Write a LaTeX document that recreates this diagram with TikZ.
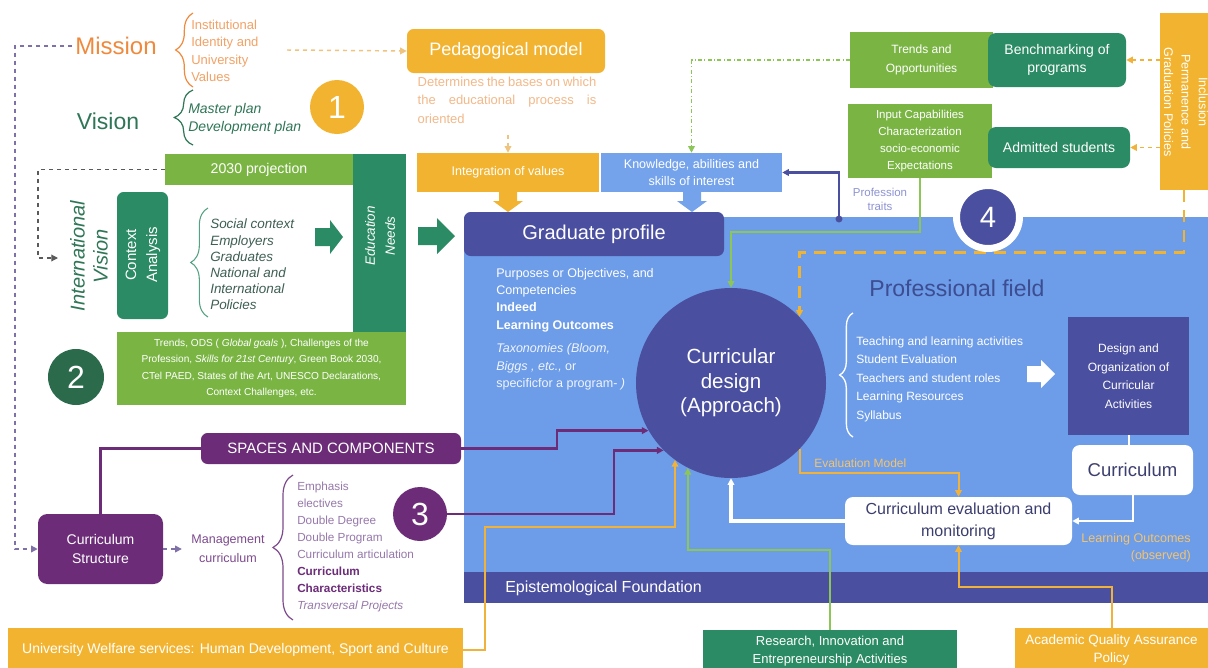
\documentclass[tikz,border=0pt]{standalone}
\usepackage{fontspec}
\setmainfont{Liberation Sans}
\usetikzlibrary{arrows.meta,decorations.pathreplacing,calc}
\definecolor{cyel}{HTML}{F2B430}
\definecolor{cyline}{HTML}{F0B23A}
\definecolor{cytext}{HTML}{F2B98A}
\definecolor{corange}{HTML}{EF8A3D}
\definecolor{corlight}{HTML}{F2A266}
\definecolor{cdash}{HTML}{EFC47E}
\definecolor{cdgreen}{HTML}{2B8B64}
\definecolor{clgreen}{HTML}{7AB544}
\definecolor{cline}{HTML}{8CC657}
\definecolor{cvgreen}{HTML}{2F7657}
\definecolor{c2green}{HTML}{2B6B4B}
\definecolor{ctxtg}{HTML}{3F5F54}
\definecolor{cpurple}{HTML}{6C2C78}
\definecolor{cpmid}{HTML}{7D4A8E}
\definecolor{cplight}{HTML}{9678AA}
\definecolor{cpdash}{HTML}{8070A8}
\definecolor{cindigo}{HTML}{4A4F9F}
\definecolor{cblue}{HTML}{6D9CE8}
\definecolor{clblue}{HTML}{74A3EC}
\definecolor{cnavy}{HTML}{3C4D92}
\definecolor{cprtr}{HTML}{8E93D3}
\definecolor{cdtext}{HTML}{3B3E6E}
\definecolor{cgreyd}{HTML}{5A5A5A}
\definecolor{clo}{HTML}{F4C46E}
\newcommand\fpx[2]{\fontsize{#1}{#2}\selectfont}
\tikzset{
  box/.style={inner sep=0pt, align=center, text=white},
  wh/.style 2 args={minimum width=#1*0.75pt, minimum height=#2*0.75pt},
  lbl/.style={inner sep=0pt},
  tip/.style={-{Triangle[length=5pt,width=5pt]}},
}
\begin{document}
\begin{tikzpicture}[x=0.75pt,y=-0.75pt]
\useasboundingbox (0,0) rectangle (1208,668);
\fill[white] (0,0) rectangle (1208,668);
% panels
\fill[cblue] (464,217) rectangle (1208,572);
\fill[cindigo] (464,572) rectangle (1208,603);
\node[lbl, anchor=west, text=white, font=\fpx{12}{14}] (epi) at (505,588) {Epistemological Foundation};

% mission / vision
\node[lbl, text=corange, font=\fpx{18}{20}, inner sep=2pt] (mission) at (116,46) {Mission};
\draw[corange, line width=0.9pt, decorate, decoration={brace, amplitude=13pt}] (193,87) -- (193,13);
\node[lbl, anchor=west, align=left, text=corlight, font=\fpx{9.75}{13}] (values) at (191,51) {Institutional\\Identity and\\University\\Values};
\node[lbl, text=cvgreen, font=\fpx{17.25}{20}, inner sep=2pt] (vision) at (108,121) {Vision};
\draw[cvgreen, line width=0.9pt, decorate, decoration={brace, amplitude=14pt}] (193,145) -- (193,90);
\node[lbl, anchor=west, align=left, text=cvgreen, font=\itshape\fpx{10.5}{13.5}] (plans) at (188,119) {Master plan\\Development plan};
\node[circle, fill=cyel, wh={54}{54}, inner sep=0pt, text=white, font=\fpx{24}{24}] (c1) at (337,107) {1};

% pedagogical model
\node[box, fill=cyel, rounded corners=5pt, wh={198}{44}, font=\fpx{13.5}{15}] (ped) at (506,51) {Pedagogical model};
\coordinate (mdash) at (287,50);
\draw[cdash, dashed, line width=1.1pt, tip] (mdash) -- (ped.west);
\node[lbl, text=cytext, font=\fpx{9.75}{13.9}, align=left] (peddesc) at (507,100) {\makebox[134pt][s]{Determines the bases on which}\\\makebox[134pt][s]{the educational process is}\\oriented};
\node[box, fill=cyel, wh={182}{39}, font=\fpx{9.4}{11}] (integ) at (508,172.5) {Integration of values};
\node[box, fill=clblue, wh={181}{39}, font=\fpx{9.4}{13}] (know) at (691.5,172.5) {Knowledge, abilities and\\skills of interest};
\coordinate (pdd) at (508,135);
\draw[cdash, dashed, line width=1pt, tip] (pdd) -- (integ.north);
\fill[cyel] (499,192)--(517,192)--(517,201)--(523,201)--(508,212)--(493,201)--(499,201)--cycle;
\fill[clblue] (683,192)--(701,192)--(701,201)--(707,201)--(692,212)--(677,201)--(683,201)--cycle;
\node[box, fill=cindigo, rounded corners=5pt, wh={260}{44}, font=\fpx{15}{17}] (grad) at (594,234) {Graduate profile};

% top right
\node[box, fill=clgreen, wh={143}{56}, font=\fpx{9}{13.9}] (trends) at (921.5,60) {Trends and\\Opportunities};
\node[box, fill=cdgreen, rounded corners=6pt, wh={138}{54}, font=\fpx{10.5}{14}] (bench) at (1057,60) {Benchmarking of\\programs};
\node[box, fill=clgreen, wh={144}{74}, font=\fpx{8.6}{12.8}] (input) at (920,141) {Input Capabilities\\Characterization\\socio-economic\\Expectations};
\node[box, fill=cdgreen, rounded corners=6pt, wh={142}{41}, font=\fpx{10.5}{12}] (admit) at (1059,147.5) {Admitted students};
\node[box, fill=cyel, wh={48}{177}] (incl) at (1184,101.5) {};
\node[lbl, rotate=-90, align=center, text=white, font=\fpx{9.4}{13}] (incltxt) at (1186,102) {Inclusion\\Permanence and\\Graduation Policies};
\draw[cyline, dashed, line width=1.1pt, tip] (incl.west |- bench.east) -- (bench.east);
\draw[cyline, dashed, line width=1.1pt, tip] (incl.west |- admit.east) -- (admit.east);
\draw[cline, dash dot, line width=1pt, tip] (trends.west) -| (know.north);
\coordinate (ptr) at (839,219);
\fill[cindigo] (ptr) circle[radius=2.6pt];
\draw[cindigo, line width=1.8pt, tip] (ptr) |- (know.east);
\node[lbl, align=center, text=cprtr, font=\fpx{8.6}{10.5}] (prtr) at (880,199) {Profession\\traits};

% left block
\node[box, fill=clgreen, wh={188}{31}, font=\fpx{10.6}{12}] (proj) at (259,169.5) {2030 projection};
\node[box, fill=cdgreen, wh={53}{178}] (eduN) at (379.5,243) {};
\node[lbl, rotate=90, align=center, text=white, font=\itshape\fpx{10.1}{15}] (edutxt) at (380,236) {Education\\Needs};
\node[box, fill=cdgreen, rounded corners=5pt, wh={51}{127}] (ctx) at (142.5,255.5) {};
\node[lbl, rotate=90, align=center, text=white, font=\fpx{11.25}{15.75}] (ctxtxt) at (143,255) {Context\\Analysis};
\node[lbl, rotate=90, align=center, text=cvgreen, font=\itshape\fpx{15}{17.25}] (intv) at (89,256) {International\\Vision};
\coordinate (ivin) at (58,258);
\draw[cgreyd, dashed, line width=0.9pt, tip] (proj.west) -| (38,258) -- (ivin);
\draw[cdgreen!80, line width=0.8pt, decorate, decoration={brace, amplitude=13pt}] (208,317) -- (208,208);
\node[lbl, anchor=west, align=left, text=ctxtg, font=\itshape\fpx{10.1}{12.15}] (ctxitems) at (210,264.5) {Social context\\Employers\\Graduates\\National and\\International\\Policies};
\fill[cdgreen] (315,228)--(330,228)--(330,220)--(343,237)--(330,254)--(330,246)--(315,246)--cycle;
\fill[cdgreen] (418,227)--(437,227)--(437,218)--(455,236)--(437,254)--(437,245)--(418,245)--cycle;
\node[box, fill=clgreen, wh={289}{73}, font=\fpx{7.6}{12.2}] (ods) at (261.5,368.5) {Trends, ODS ( \textit{Global goals} ), Challenges of the\\Profession, \textit{Skills for 21st Century}, Green Book 2030,\\CTel PAED, States of the Art, UNESCO Declarations,\\Context Challenges, etc.};
\node[circle, fill=c2green, wh={56}{56}, inner sep=0pt, text=white, font=\fpx{24}{24}] (c2) at (76,377) {2};

% bottom left
\node[box, fill=cpurple, rounded corners=5pt, wh={260}{31}, font=\fpx{11.25}{12}] (spaces) at (331,448.5) {SPACES AND COMPONENTS};
\node[box, fill=cpurple, rounded corners=7pt, wh={125}{70}, font=\fpx{10.5}{14}] (cstruct) at (100.5,549) {Curriculum\\Structure};
\draw[cpurple, line width=2pt] (cstruct.north) |- (spaces.west);
\draw[cpdash, dashed, line width=1pt, tip] (mission.west) -- (15,46) |- (cstruct.west);
\node[lbl, align=center, text=cpmid, font=\fpx{9.4}{14}] (mgmt) at (228,549) {Management\\curriculum};
\draw[cpdash, dashed, line width=1pt, tip] (cstruct.east) -- ([xshift=-7pt]mgmt.west);
\draw[cpmid, line width=0.9pt, decorate, decoration={brace, amplitude=15pt}] (293,620) -- (293,475);
\node[lbl, anchor=west, align=left, text=cplight, font=\fpx{8.8}{12.8}] (mlist) at (297,547) {Emphasis\\electives\\Double Degree\\Double Program\\Curriculum articulation\\\textcolor{cpurple}{\textbf{Curriculum}}\\\textcolor{cpurple}{\textbf{Characteristics}}\\\textit{Transversal Projects}};
\node[circle, fill=cpurple, wh={54}{54}, inner sep=0pt, text=white, font=\fpx{24}{24}] (c3) at (420,514) {3};
\node[box, fill=cyel, wh={455}{44}, font=\fpx{10.5}{12}] (welf) at (235.5,650) {University Welfare services: Human Development, Sport and Culture};

% central
\node[circle, fill=cindigo, wh={190}{190}, inner sep=0pt, text=white, align=center, font=\fpx{15.4}{18.4}] (cd) at (731,383) {Curricular\\design\\(Approach)};
\node[lbl, anchor=west, align=left, text=white, font=\fpx{9.4}{13}] (gtext1) at (496,300) {Purposes or Objectives, and\\Competencies\\\textbf{Indeed}\\\textbf{Learning Outcomes}};
\node[lbl, anchor=west, align=left, text=white!90!cblue, font=\fpx{9.4}{13.1}] (gtext2) at (496,367) {\textit{Taxonomies (Bloom,}\\\textit{Biggs , etc.,} or\\specificfor a program- \textit{)}};
\node[lbl, text=cnavy, font=\fpx{17.25}{20}] (pf) at (957,288) {Professional field};
\draw[white, line width=1pt, decorate, decoration={brace, amplitude=10pt}] (853,437) -- (853,313);
\node[lbl, anchor=west, align=left, text=white, font=\fpx{9}{13.9}] (tlist) at (856,379) {Teaching and learning activities\\Student Evaluation\\Teachers and student roles\\Learning Resources\\Syllabus};
\fill[white] (1027,366)--(1041,366)--(1041,360)--(1055,374)--(1041,388)--(1041,382)--(1027,382)--cycle;
\node[box, fill=cindigo, wh={121}{118}, font=\fpx{9}{13.9}] (design) at (1128.5,376) {Design and\\Organization of\\Curricular\\Activities};
\node[box, fill=white, rounded corners=6pt, wh={121}{50}, text=cdtext, font=\fpx{13.9}{15}] (curric) at (1132.5,470) {Curriculum};
\node[box, fill=white, rounded corners=6pt, wh={227}{48}, text=cdtext, font=\fpx{12}{16.5}] (evalb) at (958.5,521) {Curriculum evaluation and\\monitoring};
\node[lbl, text=clo, font=\fpx{9}{10}, anchor=west] (evm) at (814,463) {Evaluation Model};
\node[lbl, anchor=north east, align=right, text=clo, font=\fpx{9.4}{12.8}] (lo) at (1191,533) {Learning Outcomes\\(observed)};
\node[box, fill=cyel, wh={193}{44}, font=\fpx{10.1}{13.5}] (aqa) at (1111.5,650) {Academic Quality Assurance\\Policy};
\node[box, fill=cdgreen, wh={254}{42}, font=\fpx{9.75}{13.5}] (res) at (830,651) {Research, Innovation and\\Entrepreneurship Activities};

% connectors
\draw[white, line width=1.5pt] (design.south) -- (design.south |- curric.north);
\draw[white, line width=1.5pt, tip] (curric.south) |- (evalb.east);
\draw[white, line width=2.5pt, tip] (evalb.west) -| (cd.south);
\draw[cyline, line width=1.5pt, tip] (cd.-44) -- ++(0,24) -| (evalb.north);
\draw[cyline, line width=1.5pt, tip] (aqa.north) -- ++(0,-41) -| (evalb.south);
\draw[cline, line width=1.5pt, tip] (res.north) -- ++(0,-80) -| (cd.-117);
\draw[cyline, line width=1.5pt, tip] (welf.east) -| (485,527) -| (cd.-126);
\draw[cpurple, line width=2.2pt, tip] (spaces.east) -- (557,448.5) |- (cd.-150);
\draw[cpurple, line width=2.2pt, tip] (c3.east) -- (614,514) |- (cd.-135);
\draw[cline, line width=1.5pt, tip] (input.south) -- ++(0,54) -| (cd.north);
\draw[cyel, line width=2.2pt, dash pattern=on 9pt off 6pt, tip] (incl.south) -- ++(0,62) -| (cd.44);
\node[circle, fill=cindigo, draw=white, line width=5.25pt, wh={63}{63}, inner sep=0pt, text=white, font=\fpx{22}{22}] (c4) at (988,217) {4};
\end{tikzpicture}
\end{document}
